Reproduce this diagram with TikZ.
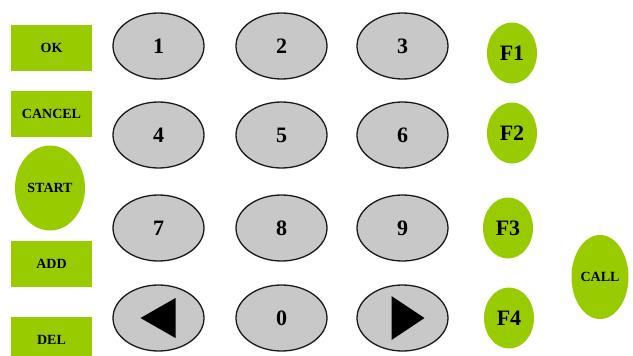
\documentclass[tikz,border=0pt]{standalone}
\usepackage{fontspec}
\setmainfont{Liberation Serif}
\usetikzlibrary{shapes.geometric,calc}
\definecolor{keygreen}{HTML}{99CC00}
\definecolor{keygray}{HTML}{C8C8C8}
\begin{document}
\begin{tikzpicture}[x=1pt,y=-1pt,
  greenbox/.style={rectangle, fill=keygreen, draw=none, minimum width=81pt, minimum height=46pt, inner sep=0pt, font=\fontsize{14}{14}\selectfont\bfseries},
  greenoval/.style={ellipse, fill=keygreen, draw=none, inner sep=0pt},
  fkey/.style={greenoval, minimum width=50pt, minimum height=61pt, font=\fontsize{22}{22}\selectfont\bfseries},
  digitkey/.style={ellipse, fill=keygray, draw=black!90, line width=1.3pt, minimum width=91pt, minimum height=66pt, inner sep=0pt, font=\fontsize{22}{22}\selectfont\bfseries},
  arrowmark/.style={fill=black, draw=none}
]
\useasboundingbox (0,0) rectangle (633,356);

% left column
\node[greenbox] (ok) at (51.5,48) {OK};
\node[greenbox] (cancel) at (51.5,114) {CANCEL};
\node[greenoval, minimum width=70pt, minimum height=85pt, font=\fontsize{14}{14}\selectfont\bfseries] (start) at (50,188) {START};
\node[greenbox] (add) at (51.5,264) {ADD};
\node[greenbox] (del) at (51.5,340) {DEL};

% digit keys
\node[digitkey] (k1) at (158.5,46) {1};
\node[digitkey] (k2) at (281.5,46) {2};
\node[digitkey] (k3) at (402.5,46) {3};
\node[digitkey] (k4) at (158.5,135) {4};
\node[digitkey] (k5) at (281.5,135) {5};
\node[digitkey] (k6) at (402.5,135) {6};
\node[digitkey] (k7) at (158.5,228) {7};
\node[digitkey] (k8) at (281.5,228) {8};
\node[digitkey] (k9) at (402.5,228) {9};
\node[digitkey] (kleft) at (158.5,318) {};
\node[digitkey] (k0) at (281.5,318) {0};
\node[digitkey] (kright) at (402.5,318) {};

\fill[arrowmark] ($(kleft.center)+(-18,0)$) -- ($(kleft.center)+(17,-20)$) -- ($(kleft.center)+(17,20)$) -- cycle;
\fill[arrowmark] ($(kright.center)+(22,0)$) -- ($(kright.center)+(-11,-22)$) -- ($(kright.center)+(-11,22)$) -- cycle;

% function keys
\node[fkey] (f1) at (512,53) {F1};
\node[fkey] (f2) at (512,133) {F2};
\node[fkey] (f3) at (508,228) {F3};
\node[fkey] (f4) at (509,318) {F4};
\node[greenoval, minimum width=57pt, minimum height=84pt, font=\fontsize{14}{14}\selectfont\bfseries] (call) at (600,277) {CALL};
\end{tikzpicture}
\end{document}
